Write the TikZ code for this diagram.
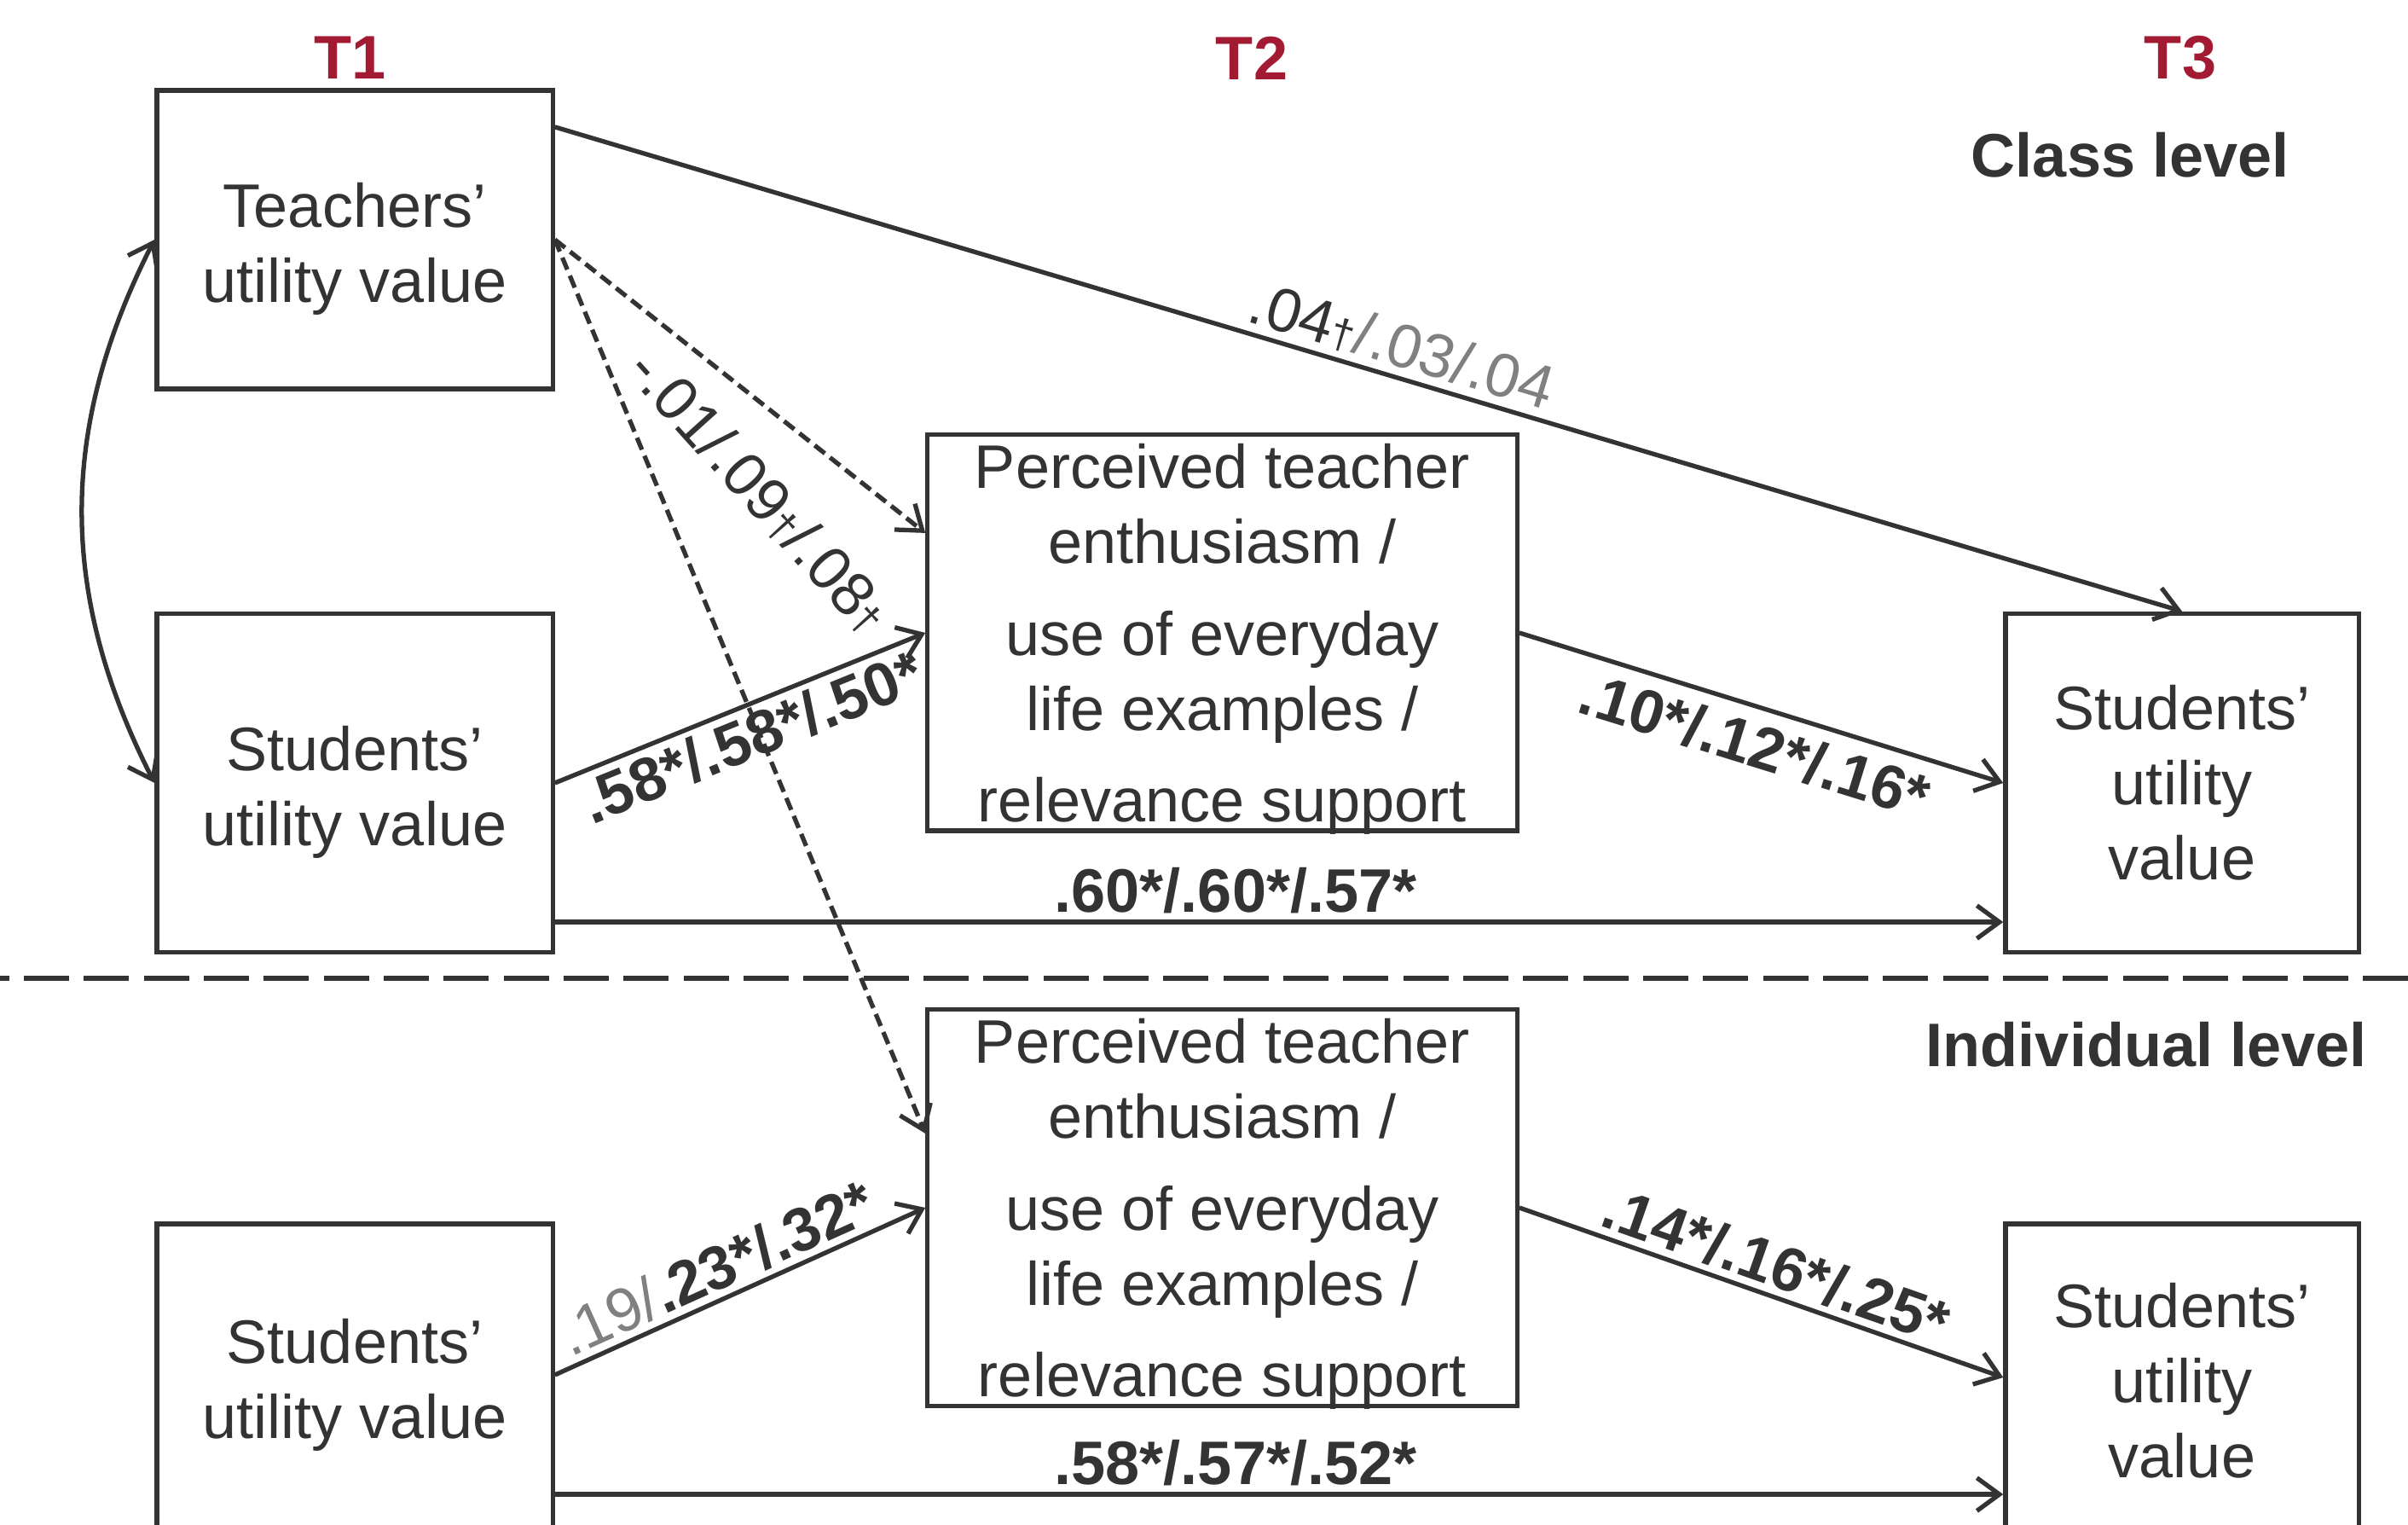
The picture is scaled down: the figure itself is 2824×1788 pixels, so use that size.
\documentclass[tikz,border=0pt]{standalone}
\usepackage{fontspec}
\setmainfont{Liberation Sans}
\usetikzlibrary{arrows.meta}

\definecolor{ink}{RGB}{51,51,51}
\definecolor{wave}{RGB}{163,27,50}
\definecolor{faded}{RGB}{128,128,128}
\newcommand{\toplift}{\rule{0pt}{21pt}}
\newcommand{\nodepth}[1]{\raisebox{0pt}[\height][0pt]{#1}}

\tikzstyle{varbox} = [draw=ink, line width=1.5pt, rectangle, inner sep=0pt, align=center, text=ink, font=\fontsize{20.5}{25}\selectfont]
\tikzstyle{effect} = [draw=ink, line width=1.5pt, -{Straight Barb[length=7.5pt,width=11pt]}]
\tikzstyle{crosseffect} = [effect, dash pattern=on 4.3pt off 2.2pt]
\tikzstyle{coef} = [text=ink, font=\fontsize{20.5}{25}\selectfont\bfseries, sloped, inner sep=2pt]
\tikzstyle{wavetitle} = [text=wave, font=\fontsize{20.5}{25}\selectfont\bfseries]
\tikzstyle{leveltitle} = [text=ink, font=\fontsize{20.5}{25}\selectfont\bfseries, anchor=east]

\begin{document}
\begin{tikzpicture}[x=0.01cm, y=0.01cm]
	\useasboundingbox (0,0) rectangle (2824,1788);
	\clip (0,0) rectangle (2824,1788);

	% waves
	\node [wavetitle] (t1) at (411,1720) {T1};
	\node [wavetitle] (t2) at (1468,1720) {T2};
	\node [wavetitle] (t3) at (2557,1720) {T3};
	\node [leveltitle] (classlvl) at (2697,1606) {Class level};
	\node [leveltitle] (indivlvl) at (2788,563) {Individual level};

	% class level
	\node [varbox, minimum width=4.64cm, minimum height=3.5cm] (tuv) at (416,1507) {\toplift Teachers’\\utility value};
	\node [varbox, minimum width=4.64cm, minimum height=3.97cm] (suv1) at (416,870) {\toplift Students’\\utility value};
	\node [varbox, minimum width=6.91cm, minimum height=4.64cm] (med1) at (1433.5,1046) {Perceived teacher\\enthusiasm /\\[5.5pt]use of everyday\\life examples /\\[5.5pt]\nodepth{relevance support}};
	\node [varbox, minimum width=4.14cm, minimum height=3.97cm] (suv3) at (2559,870) {Students’\\utility\\value};

	\draw [ink, line width=1.5pt, dash pattern=on 15pt off 5pt, dash phase=12pt] (0,641) -- (2824,641);

	% individual level
	\node [varbox, minimum width=6.91cm, minimum height=4.65cm] (med2) at (1433.5,372) {Perceived teacher\\enthusiasm /\\[5.5pt]use of everyday\\life examples /\\[5.5pt]\nodepth{relevance support}};
	\node [varbox, minimum width=4.64cm, minimum height=3.78cm] (suv1i) at (416,164) {Students’\\utility value};
	\node [varbox, minimum width=4.14cm, minimum height=3.68cm] (suv3i) at (2559,169) {Students’\\utility\\value};

	% paths
	\draw [effect, {Straight Barb[length=7.5pt,width=11pt]}-{Straight Barb[length=7.5pt,width=11pt]}] (tuv.west) to[out=243, in=117] (suv1.west);
	\draw [effect] ([yshift=1.32cm]tuv.east) -- node [coef, pos=.515, above, font=\fontsize{20.5}{25}\selectfont] (c1) {.04{\fontsize{14}{14}\selectfont †}\textcolor{faded}{/.03/.04}} (suv3.north);
	\draw [crosseffect] (tuv.east) -- ([yshift=1.17cm]med1.west);
	\draw [crosseffect] (tuv.east) -- ([yshift=0.87cm]med2.west);
	\node [text=ink, font=\fontsize{20.5}{25}\selectfont, rotate=-48] (c2) at (891,1212) {-.01/.09{\fontsize{14}{14}\selectfont †}/.08{\fontsize{14}{14}\selectfont †}};
	\draw [effect] (suv1.east) -- node [coef, pos=.50, below] (c3) {.58*/.58*/.50*} (med1.west);
	\draw [effect] (med1.east) -- node [coef, pos=.51, below, yshift=-2pt] (c4) {.10*/.12*/.16*} (suv3.west);
	\draw [effect] ([yshift=-1.63cm]suv1.east) -- node [coef, pos=.47, above] (c5) {.60*/.60*/.57*} ([yshift=-1.63cm]suv1.east -| suv3.west);

	\draw [effect] ([yshift=0.12cm]suv1i.east) -- node [coef, pos=.47, above] (c6) {\textcolor{faded}{\mdseries .19/}.23*/.32*} (med2.west);
	\draw [effect] (med2.east) -- node [coef, pos=.51, above] (c7) {.14*/.16*/.25*} ([yshift=0.04cm]suv3i.west);
	\draw [effect] ([yshift=-1.28cm]suv1i.east) -- node [coef, pos=.47, above] (c8) {.58*/.57*/.52*} ([yshift=-1.28cm]suv1i.east -| suv3i.west);
\end{tikzpicture}
\end{document}
